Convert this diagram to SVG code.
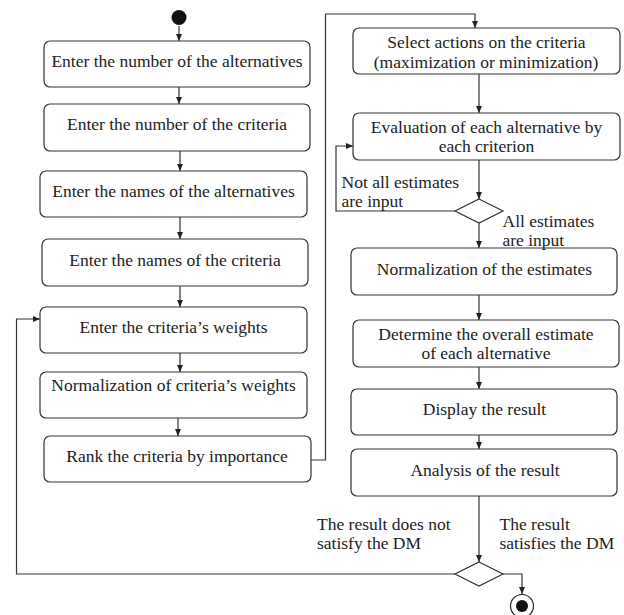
<svg xmlns="http://www.w3.org/2000/svg" width="624" height="615" viewBox="0 0 624 615" font-family="'Liberation Serif', 'DejaVu Serif', serif">
<defs>
<marker id="arr" markerUnits="userSpaceOnUse" markerWidth="8" markerHeight="7" refX="7" refY="3" orient="auto">
<path d="M0,0 L7,3 L0,6 z" fill="#222"/>
</marker>
<style>
.box{fill:#fff;stroke:#333;stroke-width:1.2}
.t{font-family:'Liberation Serif','DejaVu Serif',serif;font-size:17.5px;fill:#222}
.m{text-anchor:middle}
.c{fill:none;stroke:#333;stroke-width:1.2}
.a{marker-end:url(#arr)}
.dia{fill:#fff;stroke:#333;stroke-width:1.2}
</style>
</defs>
<rect width="624" height="615" fill="#fff"/>

<g id="connectors">
<line class="c a" x1="179" y1="26" x2="179" y2="41"/>
<line class="c a" x1="179" y1="87" x2="179" y2="104"/>
<line class="c a" x1="180" y1="151" x2="180" y2="171"/>
<line class="c a" x1="180" y1="217" x2="180" y2="239"/>
<line class="c a" x1="180" y1="286" x2="180" y2="307"/>
<line class="c a" x1="180" y1="353" x2="180" y2="372"/>
<line class="c a" x1="178" y1="418" x2="178" y2="436"/>
<polyline class="c a" points="311,460 325.5,460 325.5,14 475,14 475,28"/>
<line class="c a" x1="479" y1="74" x2="479" y2="113"/>
<line class="c a" x1="479" y1="160" x2="479" y2="199"/>
<polyline class="c a" points="455,211 336,211 336,146 353,146"/>
<line class="c a" x1="479" y1="223" x2="479" y2="248"/>
<line class="c a" x1="479" y1="295" x2="479" y2="320"/>
<line class="c a" x1="479" y1="367" x2="479" y2="389"/>
<line class="c a" x1="479" y1="435" x2="479" y2="449"/>
<line class="c a" x1="479" y1="496" x2="479" y2="562"/>
<polyline class="c a" points="455,574 16.5,574 16.5,319 40,319"/>
<polyline class="c a" points="503,574 522,574 522,594"/>
</g>

<g id="start"><circle cx="179" cy="17.5" r="7.5" fill="#111"/></g>

<g id="n1"><rect class="box" x="44" y="41" width="266" height="46" rx="6"/><text class="t m" x="177" y="67">Enter the number of the alternatives</text></g>
<g id="n2"><rect class="box" x="44" y="104" width="266" height="47" rx="6"/><text class="t m" x="177" y="130">Enter the number of the criteria</text></g>
<g id="n3"><rect class="box" x="40" y="171" width="267" height="46" rx="6"/><text class="t m" x="173.5" y="196.5">Enter the names of the alternatives</text></g>
<g id="n4"><rect class="box" x="42" y="239" width="266" height="47" rx="6"/><text class="t m" x="175" y="266">Enter the names of the criteria</text></g>
<g id="n5"><rect class="box" x="40" y="307" width="267" height="46" rx="6"/><text class="t m" x="173.5" y="332.5">Enter the criteria’s weights</text></g>
<g id="n6"><rect class="box" x="40" y="372" width="267" height="46" rx="6"/><text class="t m" x="173.5" y="391">Normalization of criteria’s weights</text></g>
<g id="n7"><rect class="box" x="44" y="436" width="267" height="46" rx="6"/><text class="t m" x="177" y="462">Rank the criteria by importance</text></g>

<g id="n8"><rect class="box" x="353" y="28" width="267" height="46" rx="6"/><text class="t m" x="486.5" y="48">Select actions on the criteria</text><text class="t m" x="486" y="68">(maximization or minimization)</text></g>
<g id="n9"><rect class="box" x="353" y="113" width="267" height="47" rx="6"/><text class="t m" x="486.5" y="132.5">Evaluation of each alternative by</text><text class="t m" x="486.5" y="151.5">each criterion</text></g>
<g id="d1"><polygon class="dia" points="479,199 503,211 479,223 455,211"/></g>
<g id="n10"><rect class="box" x="351" y="248" width="266" height="47" rx="6"/><text class="t m" x="484.5" y="275">Normalization of the estimates</text></g>
<g id="n11"><rect class="box" x="353" y="320" width="266" height="47" rx="6"/><text class="t m" x="486" y="340">Determine the overall estimate</text><text class="t m" x="486" y="359">of each alternative</text></g>
<g id="n12"><rect class="box" x="351" y="389" width="266" height="46" rx="6"/><text class="t m" x="484.5" y="415">Display the result</text></g>
<g id="n13"><rect class="box" x="351" y="449" width="266" height="47" rx="6"/><text class="t m" x="485" y="476">Analysis of the result</text></g>
<g id="d2"><polygon class="dia" points="479,562 503,574 479,586 455,574"/></g>
<g id="end"><circle cx="522" cy="606" r="11.5" fill="#fff" stroke="#222" stroke-width="1.2"/><circle cx="522" cy="606" r="6" fill="#111"/></g>

<g id="labels">
<text class="t" x="341.5" y="188">Not all estimates</text>
<text class="t" x="341.5" y="207">are input</text>
<text class="t" x="502.5" y="227">All estimates</text>
<text class="t" x="502.5" y="246">are input</text>
<text class="t" x="317" y="530">The result does not</text>
<text class="t" x="317" y="549">satisfy the DM</text>
<text class="t" x="499.5" y="530">The result</text>
<text class="t" x="499.5" y="549">satisfies the DM</text>
</g>
</svg>
